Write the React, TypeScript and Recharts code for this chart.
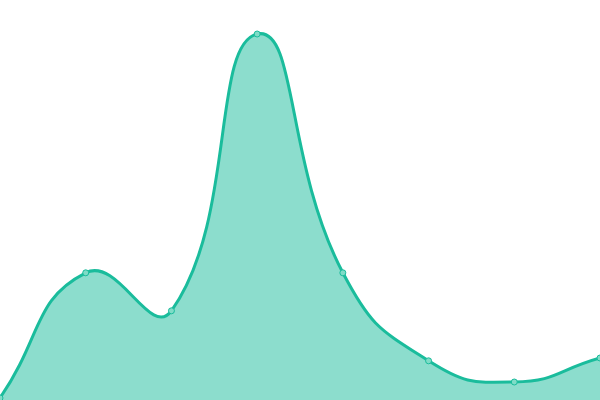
import { Area, AreaChart, XAxis, YAxis } from "recharts";

const categories = ["A", "B", "C", "D", "E", "F", "G", "H"];
const values = [0.5, 31.8, 22.3, 91.5, 31.8, 9.8, 4.5, 10.5];

const data = categories.map((label, i) => ({ label, value: values[i] }));

const teal = "#1abc9c";

// bezier smoothing: control points along the neighbour vector, split by segment length
function smoothCurve(smooth: number) {
  return (context: any) => {
    let line = NaN;
    let xs: number[] = [];
    let ys: number[] = [];
    return {
      areaStart() {
        line = 0;
      },
      areaEnd() {
        line = NaN;
      },
      lineStart() {
        xs = [];
        ys = [];
      },
      point(x: number, y: number) {
        xs.push(+x);
        ys.push(+y);
      },
      lineEnd() {
        const n = xs.length;
        if (n) {
          if (line) context.lineTo(xs[0], ys[0]);
          else context.moveTo(xs[0], ys[0]);
        }
        const cps: number[][] = [];
        for (let i = 0; i < n; i++) {
          const pi = i > 0 ? i - 1 : i;
          const ni = i < n - 1 ? i + 1 : i;
          const vx = xs[ni] - xs[pi];
          const vy = ys[ni] - ys[pi];
          const d0 = Math.hypot(xs[i] - xs[pi], ys[i] - ys[pi]);
          const d1 = Math.hypot(xs[ni] - xs[i], ys[ni] - ys[i]);
          const r = d0 + d1 > 0 ? d1 / (d0 + d1) : 0.5;
          cps.push([
            xs[i] - vx * smooth * (1 - r),
            ys[i] - vy * smooth * (1 - r),
            xs[i] + vx * smooth * r,
            ys[i] + vy * smooth * r,
          ]);
        }
        for (let i = 0; i < n - 1; i++) {
          context.bezierCurveTo(cps[i][2], cps[i][3], cps[i + 1][0], cps[i + 1][1], xs[i + 1], ys[i + 1]);
        }
        if (line || (line !== 0 && n === 1)) context.closePath();
        line = 1 - line;
      },
    };
  };
}

const curve = smoothCurve(0.5);

export default function App() {
  return (
    <div style={{ position: "absolute", left: 0, top: 0, width: 600, height: 400, background: "#fff" }}>
      <AreaChart width={600} height={400} data={data} margin={{ top: 0, right: 0, left: 0, bottom: 0 }}>
        <XAxis dataKey="label" hide padding={{ left: 0, right: 0 }} />
        <YAxis hide domain={[0, 100]} />
        <Area
          type={curve as any}
          dataKey="value"
          stroke={teal}
          strokeWidth={3}
          fill={teal}
          fillOpacity={0.5}
          dot={{ r: 3, fill: "#7fdcc7", stroke: teal, strokeWidth: 1, fillOpacity: 1 }}
          activeDot={false}
          isAnimationActive={false}
        />
      </AreaChart>
    </div>
  );
}
